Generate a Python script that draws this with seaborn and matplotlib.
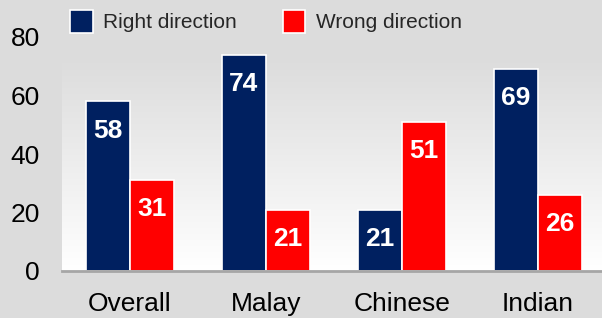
import numpy as np
import pandas as pd
import seaborn as sns
import matplotlib.pyplot as plt
from matplotlib.patches import Patch
from matplotlib.colors import LinearSegmentedColormap

# valores
grupos = ["Overall", "Malay", "Chinese", "Indian"]
certo = [58, 74, 21, 69]
errado = [31, 21, 51, 26]
series = ["Right direction", "Wrong direction"]
cores = ["#002060", "#FF0000"]

df = pd.DataFrame({
    "grupo": grupos * 2,
    "serie": [series[0]] * 4 + [series[1]] * 4,
    "valor": certo + errado,
})

sns.set_theme(style="white")
plt.rcParams["font.family"] = ["Liberation Sans", "DejaVu Sans"]

fundo = "#DCDCDC"
fig = plt.figure(figsize=(6.02, 3.18), dpi=100, facecolor=fundo)
ax = fig.add_axes([62 / 602, 47 / 318, 544 / 602, 234 / 318])
ax.set_facecolor("none")

# fundo em degrade da area do grafico
grad = np.linspace(0, 1, 256).reshape(-1, 1)
cmap = LinearSegmentedColormap.from_list("g", ["#FFFFFF", "#DDDDDD"])
ax.imshow(grad, aspect="auto", cmap=cmap, origin="lower",
          extent=[-0.5, 3.5, 0, 71.1], zorder=0)

sns.barplot(data=df, x="grupo", y="valor", hue="serie", palette=cores,
            width=0.65, gap=0, edgecolor="white", linewidth=1.2,
            saturation=1, ax=ax, zorder=2, legend=False)

for cont in ax.containers:
    for barra in cont:
        h = barra.get_height()
        ax.annotate(f"{h:.0f}", (barra.get_x() + barra.get_width() / 2, h),
                    xytext=(0, -21), textcoords="offset points",
                    ha="center", va="center", color="white",
                    fontsize=19, fontweight="bold", zorder=3)

ax.set_xlim(-0.5, 3.5)
ax.set_ylim(0, 80)
ax.set_yticks([0, 20, 40, 60, 80])
ax.set_xlabel("")
ax.set_ylabel("")
for s in ["top", "right", "left"]:
    ax.spines[s].set_visible(False)
ax.spines["bottom"].set_color("#A6A6A6")
ax.spines["bottom"].set_linewidth(2)
ax.spines["bottom"].set_zorder(4)
ax.tick_params(axis="y", length=0, pad=16, labelsize=19, colors="black")
ax.tick_params(axis="x", length=0, pad=15, labelsize=19, colors="black")

handles = [Patch(facecolor=c, edgecolor="white", linewidth=1.2) for c in cores]
fig.legend(handles, series, loc="upper left", bbox_to_anchor=(55 / 602, 1.015),
           ncol=2, frameon=False, fontsize=15, handlelength=1.1,
           handleheight=1.35, handletextpad=0.5, columnspacing=2.2,
           borderaxespad=0.3)

fig.savefig("out.png", dpi=100, facecolor=fundo)
